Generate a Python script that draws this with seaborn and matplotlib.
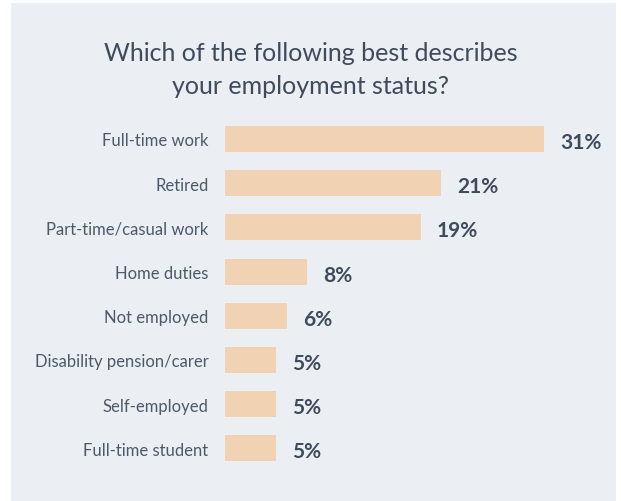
import matplotlib
matplotlib.use("Agg")
import matplotlib.pyplot as plt
import seaborn as sns
import pandas as pd
from matplotlib.patches import Rectangle

categories = [
    "Full-time work",
    "Retired",
    "Part-time/casual work",
    "Home duties",
    "Not employed",
    "Disability pension/carer",
    "Self-employed",
    "Full-time student",
]
percentages = [31, 21, 19, 8, 6, 5, 5, 5]
title_lines = ["Which of the following best describes", "your employment status?"]

sns.set_theme(style="white")
plt.rcParams["font.family"] = ["Lato", "DejaVu Sans"]

W, H, DPI = 621, 502, 100
panel_color = "#EBEEF3"
fig = plt.figure(figsize=(W / DPI, H / DPI), dpi=DPI, facecolor=panel_color)

# white margins around the light panel (left, right, top)
for x0, y0, w, h in [(0, 0, 11 / W, 1), (616 / W, 0, 1 - 616 / W, 1), (0, 1 - 4 / H, 1, 4 / H)]:
    fig.patches.append(Rectangle((x0, y0), w, h, transform=fig.transFigure,
                                 facecolor="white", edgecolor="none", zorder=-10))

text_dark = "#3E4B5C"
label_grey = "#4E5968"

# title
fig.text(311 / W, 1 - 61 / H, title_lines[0], ha="center", va="baseline",
         fontsize=18, color=text_dark)
fig.text(311 / W, 1 - 94 / H, title_lines[1], ha="center", va="baseline",
         fontsize=18, color=text_dark)

# bar axes
top_px, bottom_px = 117.9, 471.5
ax = fig.add_axes([225 / W, 1 - bottom_px / H, (616 - 225) / W, (bottom_px - top_px) / H])
ax.set_facecolor("none")
ax.set_zorder(5)

df = pd.DataFrame({"status": categories, "pct": percentages})
sns.barplot(data=df, y="status", x="pct", orient="h", color="#F1D3B4",
            saturation=1, width=0.59, linewidth=0, ax=ax)

ax.set_xlim(0, 38)
ax.set_ylim(len(categories) - 0.5, -0.5)
ax.set_xlabel("")
ax.set_ylabel("")
ax.set_xticks([])
for s in ax.spines.values():
    s.set_visible(False)
ax.tick_params(axis="y", length=0, pad=12, labelsize=12, labelcolor=label_grey)

for i, v in enumerate(percentages):
    ax.text(v + 1.55, i + 0.07, f"{v}%", ha="left", va="center",
            fontsize=15, fontweight="bold", color=text_dark)

fig.savefig("out.png", dpi=DPI, facecolor=panel_color)
